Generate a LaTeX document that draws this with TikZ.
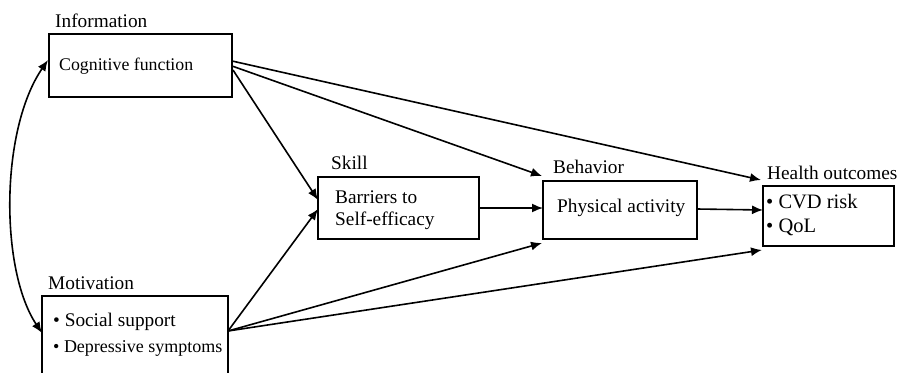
\documentclass[tikz,border=0pt]{standalone}
\usepackage{fontspec}
\setmainfont{Liberation Serif}
\usetikzlibrary{arrows.meta}
\begin{document}
\begin{tikzpicture}[x=1pt,y=-1pt,
  boxnode/.style={draw,line width=1.9pt,inner sep=0pt,outer sep=0pt},
  lbl/.style={anchor=west,inner sep=0pt,font=\fontsize{19.3}{22}\selectfont},
  txt/.style={anchor=west,inner sep=0pt,font=\fontsize{19.3}{22}\selectfont},
  conn/.style={line width=1.6pt,-{Latex[length=11pt,width=9pt]}},
  bic/.style={line width=1.6pt,{Latex[length=11pt,width=9pt]}-{Latex[length=11pt,width=9pt]}}]
\useasboundingbox (0,0) rectangle (899,372);
% boxes
\node[boxnode,minimum width=183pt,minimum height=63pt] (cog) at (140.5,65.5) {};
\node[boxnode,minimum width=186pt,minimum height=90pt] (mot) at (135,341) {};
\node[boxnode,minimum width=161pt,minimum height=62pt] (skill) at (398.5,208) {};
\node[boxnode,minimum width=154pt,minimum height=58pt] (phys) at (620,210) {};
\node[boxnode,minimum width=131pt,minimum height=60pt] (health) at (828.5,216) {};
% labels
\node[lbl] (linfo) at (55,21) {Information};
\node[lbl] (lmot) at (48,283) {Motivation};
\node[lbl] (lskill) at (331,163) {Skill};
\node[lbl] (lbeh) at (553,167) {Behavior};
\node[lbl] (lhealth) at (767,173) {Health outcomes};
% texts
\node[txt,font=\fontsize{17.8}{20}\selectfont] (tcog) at (59,66) {Cognitive function};
\node[txt] (tsoc) at (53,322) {• Social support};
\node[txt,font=\fontsize{18}{20}\selectfont] (tdep) at (53,348) {• Depressive symptoms};
\node[txt] (tbar) at (335,197) {Barriers to};
\node[txt] (tself) at (335,221) {Self-efficacy};
\node[txt] (tphys) at (557,208) {Physical activity};
\node[txt,font=\fontsize{20.5}{23}\selectfont] (tcvd) at (766,202) {• CVD risk};
\node[txt,font=\fontsize{20.5}{23}\selectfont] (tqol) at (766,227) {• QoL};
% connector end points
\coordinate (c1) at (232,61);
\coordinate (c2) at (232,66);
\coordinate (c3) at (233,70);
\coordinate (m0) at (228,331);
\coordinate (hTop) at (761,180);
\coordinate (bTop) at (542,176);
\coordinate (sTop) at (318,200);
\coordinate (sBot) at (318,209);
\coordinate (pBot) at (542,243);
\coordinate (hBot) at (762,250);
\coordinate (cogL) at (48,60);
\coordinate (motL) at (42,333);
% connectors
\draw[conn] (c1) -- (hTop);
\draw[conn] (c2) -- (bTop);
\draw[conn] (c3) -- (sTop);
\draw[conn] (m0) -- (sBot);
\draw[conn] (m0) -- (pBot);
\draw[conn] (m0) -- (hBot);
\draw[conn] (skill.east |- 0,208) -- (phys.west |- 0,208);
\draw[conn] (phys.east |- 0,209) -- (health.west |- 0,210);
\draw[bic] (cogL) .. controls (0,130) and (0,270) .. (motL);
\end{tikzpicture}
\end{document}
